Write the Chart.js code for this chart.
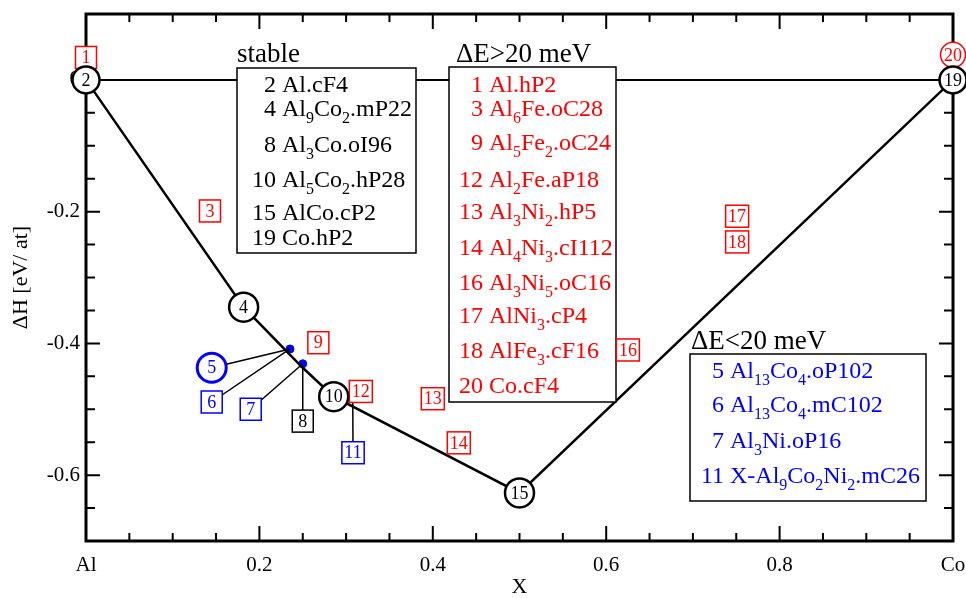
<!DOCTYPE html>
<html>
<head>
<meta charset="utf-8">
<script src="https://cdn.jsdelivr.net/npm/chart.js@4.4.1/dist/chart.umd.min.js"></script>
<style>
  body { margin: 0; background: #fff; }
  canvas { display: block; }
</style>
</head>
<body>
<canvas id="hullChart" width="966" height="598"></canvas>
<script>
// convex hull (stable phases)
const hullX = [0, 0.1818, 0.25, 0.2857, 0.5, 1];
const hullY = [0, -0.345, -0.437, -0.481, -0.627, 0];
const refX = [0, 1];
const refY = [0, 0];

// stable phases drawn as circles
const circleIds = ['2', '4', '10', '15', '19'];
const circleX = [0, 0.1818, 0.2857, 0.5, 1];
const circleY = [0, -0.345, -0.481, -0.627, 0];

// dE > 20 meV (red boxes)
const redIds = ['1', '3', '9', '12', '13', '14', '16', '17', '18'];
const redX = [0, 0.143, 0.268, 0.317, 0.400, 0.430, 0.625, 0.751, 0.751];
const redY = [0.034, -0.199, -0.399, -0.473, -0.484, -0.551, -0.410, -0.207, -0.246];
const red20X = 1;
const red20Y = 0.038;

// structures on or close to the hull, labelled with leader lines
const nearIds = ['5', '6', '7', '8', '11'];
const nearX = [0.2353, 0.2353, 0.25, 0.25, 0.3077];
const nearY = [-0.4085, -0.4085, -0.431, -0.437, -0.490];
const tagX = [0.145, 0.145, 0.190, 0.250, 0.308];
const tagY = [-0.437, -0.489, -0.500, -0.518, -0.566];
const nearColors = ['#0000ff', '#0000ff', '#0000ff', '#000000', '#0000ff'];

const dotX = [0.2353, 0.25];
const dotY = [-0.4085, -0.431];

// axes
const xTicks = [0, 0.2, 0.4, 0.6, 0.8, 1];
const xTickLabels = ['Al', '0.2', '0.4', '0.6', '0.8', 'Co'];
const yTicks = [-0.6, -0.4, -0.2, 0];
const yTickLabels = ['-0.6', '-0.4', '-0.2', '0'];

// legend lists
const stableList = ['2 Al.cF4', '4 Al_9Co_2.mP22', '8 Al_3Co.oI96', '10 Al_5Co_2.hP28', '15 AlCo.cP2', '19 Co.hP2'];
const highList = ['1 Al.hP2', '3 Al_6Fe.oC28', '9 Al_5Fe_2.oC24', '12 Al_2Fe.aP18', '13 Al_3Ni_2.hP5',
    '14 Al_4Ni_3.cI112', '16 Al_3Ni_5.oC16', '17 AlNi_3.cP4', '18 AlFe_3.cF16', '20 Co.cF4'];
const lowList = ['5 Al_13Co_4.oP102', '6 Al_13Co_4.mC102', '7 Al_3Ni.oP16', '11 X-Al_9Co_2Ni_2.mC26'];

const SERIF = '"Liberation Serif", "DejaVu Serif", serif';
const RED = '#ff0000';
const BLUE = '#0000ff';

function pts(xs, ys) {
    return xs.map((x, i) => ({ x: x, y: ys[i] }));
}

function richText(ctx, str, x, y, size) {
    const parts = str.split(/(_\d+)/).filter(p => p.length);
    parts.forEach(p => {
        if (p[0] === '_') {
            ctx.font = Math.round(size * 0.66) + 'px ' + SERIF;
            ctx.fillText(p.slice(1), x, y + size * 0.3);
            x += ctx.measureText(p.slice(1)).width;
        } else {
            ctx.font = size + 'px ' + SERIF;
            ctx.fillText(p, x, y);
            x += ctx.measureText(p).width;
        }
    });
}

function legendBlock(ctx, title, list, box, color, numRight, baselines) {
    ctx.save();
    ctx.fillStyle = '#fff';
    ctx.fillRect(box[0], box[1], box[2] - box[0], box[3] - box[1]);
    ctx.strokeStyle = '#000';
    ctx.lineWidth = 1.5;
    ctx.strokeRect(box[0], box[1], box[2] - box[0], box[3] - box[1]);
    ctx.fillStyle = '#000';
    ctx.textBaseline = 'alphabetic';
    ctx.textAlign = 'left';
    ctx.font = '27px ' + SERIF;
    ctx.fillText(title[0], title[1], title[2]);
    ctx.fillStyle = color;
    list.forEach((s, i) => {
        const cut = s.indexOf(' ');
        const num = s.slice(0, cut);
        ctx.font = '24px ' + SERIF;
        ctx.textAlign = 'right';
        ctx.fillText(num, numRight, baselines[i]);
        ctx.textAlign = 'left';
        richText(ctx, s.slice(cut + 1), numRight + 6, baselines[i], 24);
    });
    ctx.restore();
}

function tagBox(ctx, px, py, label, color) {
    ctx.font = '18px ' + SERIF;
    const w = Math.max(21, ctx.measureText(label).width + 5);
    const h = 22;
    ctx.fillStyle = '#fff';
    ctx.fillRect(px - w / 2, py - h / 2, w, h);
    ctx.strokeStyle = color;
    ctx.lineWidth = 1.5;
    ctx.strokeRect(px - w / 2, py - h / 2, w, h);
    ctx.fillStyle = color;
    ctx.textAlign = 'center';
    ctx.textBaseline = 'middle';
    ctx.fillText(label, px, py + 1);
}

function tagCircle(ctx, px, py, label, color, r, lw) {
    ctx.beginPath();
    ctx.arc(px, py, r, 0, Math.PI * 2);
    ctx.fillStyle = '#fff';
    ctx.fill();
    ctx.strokeStyle = color;
    ctx.lineWidth = lw;
    ctx.stroke();
    ctx.font = '18px ' + SERIF;
    ctx.fillStyle = color;
    ctx.textAlign = 'center';
    ctx.textBaseline = 'middle';
    ctx.fillText(label, px, py + 1);
}

const hullDecor = {
    id: 'hullDecor',
    beforeDatasetsDraw(chart) {
        const ctx = chart.ctx;
        const a = chart.chartArea;
        const sx = chart.scales.x;
        const sy = chart.scales.y;
        ctx.save();
        ctx.strokeStyle = '#000';
        ctx.lineWidth = 2;
        for (let k = 1; k < 20; k++) {
            const px = sx.getPixelForValue(k * 0.05);
            const len = k % 4 === 0 ? 15 : 8;
            ctx.beginPath();
            ctx.moveTo(px, a.bottom); ctx.lineTo(px, a.bottom - len);
            ctx.moveTo(px, a.top); ctx.lineTo(px, a.top + len);
            ctx.stroke();
        }
        for (let k = -13; k <= 1; k++) {
            const py = sy.getPixelForValue(k * 0.05);
            const len = k % 4 === 0 ? 14 : 9;
            ctx.beginPath();
            ctx.moveTo(a.left, py); ctx.lineTo(a.left + len, py);
            ctx.moveTo(a.right, py); ctx.lineTo(a.right - len, py);
            ctx.stroke();
        }
        ctx.lineWidth = 3;
        ctx.strokeRect(a.left, a.top, a.right - a.left, a.bottom - a.top);
        ctx.restore();
    },
    afterDatasetsDraw(chart) {
        const ctx = chart.ctx;
        const sx = chart.scales.x;
        const sy = chart.scales.y;
        ctx.save();

        legendBlock(ctx, ['stable', 237, 62], stableList, [237, 68, 416, 253], '#000', 276,
            [92, 116, 152, 187, 220, 245]);
        legendBlock(ctx, ['\u0394E>20 meV', 456, 62], highList, [449, 67, 616, 402], RED, 483,
            [92, 116, 150, 187, 219, 255, 290, 323, 358, 393]);
        legendBlock(ctx, ['\u0394E<20 meV', 691, 349], lowList, [690, 354, 926, 501], BLUE, 724,
            [378, 412, 448, 483]);

        redIds.forEach((id, i) => {
            tagBox(ctx, sx.getPixelForValue(redX[i]), sy.getPixelForValue(redY[i]), id, RED);
        });
        tagCircle(ctx, sx.getPixelForValue(red20X), sy.getPixelForValue(red20Y), '20', RED, 12.5, 1.5);

        nearIds.forEach((id, i) => {
            const px = sx.getPixelForValue(tagX[i]);
            const py = sy.getPixelForValue(tagY[i]);
            if (id === '5') {
                tagCircle(ctx, px, py, id, BLUE, 14.5, 3);
            } else {
                tagBox(ctx, px, py, id, nearColors[i]);
            }
        });

        circleIds.forEach((id, i) => {
            const r = (id === '2' || id === '19') ? 13.5 : 14.5;
            tagCircle(ctx, sx.getPixelForValue(circleX[i]), sy.getPixelForValue(circleY[i]), id, '#000', r, 2.5);
        });
        ctx.restore();
    }
};

const datasets = [
    {
        data: pts(refX, refY),
        showLine: true,
        borderColor: '#000',
        borderWidth: 2,
        pointRadius: 0
    },
    {
        data: pts(hullX, hullY),
        showLine: true,
        borderColor: '#000',
        borderWidth: 2.5,
        pointRadius: 0
    }
];
nearIds.forEach((id, i) => {
    datasets.push({
        data: [{ x: tagX[i], y: tagY[i] }, { x: nearX[i], y: nearY[i] }],
        showLine: true,
        borderColor: '#000',
        borderWidth: 1.5,
        pointRadius: 0
    });
});
datasets.push({
    data: pts(dotX, dotY),
    showLine: false,
    pointRadius: 4,
    pointBackgroundColor: BLUE,
    pointBorderColor: BLUE
});

new Chart(document.getElementById('hullChart'), {
    type: 'scatter',
    data: { datasets: datasets },
    options: {
        responsive: false,
        animation: false,
        devicePixelRatio: 1,
        layout: { padding: { top: 14, right: 13, left: 0, bottom: 0 } },
        plugins: { legend: { display: false }, tooltip: { enabled: false } },
        scales: {
            x: {
                type: 'linear',
                min: 0,
                max: 1,
                afterBuildTicks: s => { s.ticks = xTicks.map(v => ({ value: v })); },
                afterFit: s => { s.height = 57; s.paddingLeft = 0; s.paddingRight = 0; },
                grid: { display: false, drawTicks: false },
                border: { display: false },
                ticks: {
                    padding: 12,
                    color: '#000',
                    font: { family: SERIF, size: 21 },
                    maxRotation: 0,
                    callback: v => xTickLabels[xTicks.indexOf(v)]
                },
                title: {
                    display: true,
                    text: 'X',
                    color: '#000',
                    font: { family: SERIF, size: 22, lineHeight: 1.0 },
                    padding: { top: 0, bottom: 0 }
                }
            },
            y: {
                type: 'linear',
                min: -0.7,
                max: 0.1,
                afterBuildTicks: s => { s.ticks = yTicks.map(v => ({ value: v })); },
                afterFit: s => { s.width = 86; s.paddingTop = 0; s.paddingBottom = 0; },
                grid: { display: false, drawTicks: false },
                border: { display: false },
                ticks: {
                    padding: 6,
                    color: '#000',
                    font: { family: SERIF, size: 21 },
                    callback: v => yTickLabels[yTicks.indexOf(v)]
                },
                title: {
                    display: true,
                    text: '\u0394H [eV/ at]',
                    color: '#000',
                    font: { family: SERIF, size: 22 },
                    padding: { top: 8, bottom: 0 }
                }
            }
        }
    },
    plugins: [hullDecor]
});
</script>
</body>
</html>
